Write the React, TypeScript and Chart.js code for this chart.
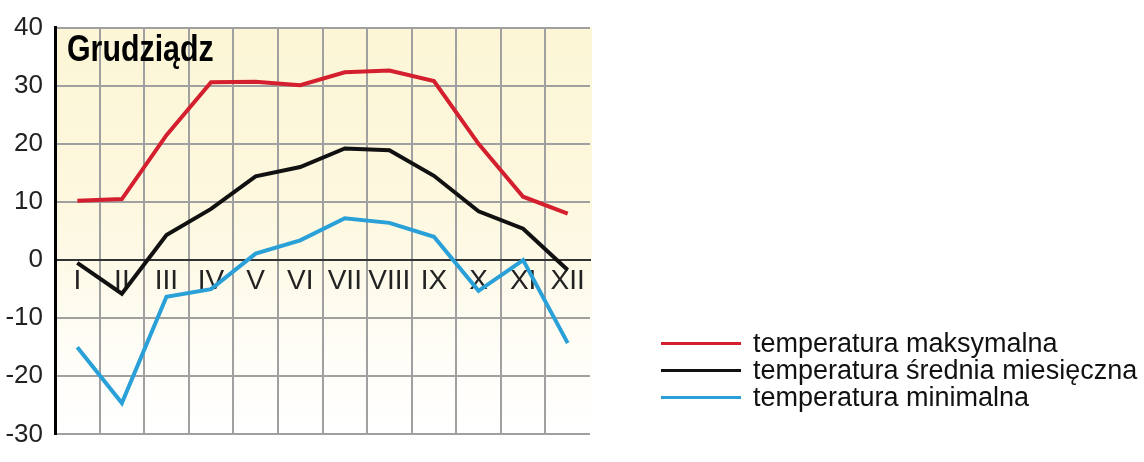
import { useEffect, useRef } from 'react';
import { Chart, registerables } from 'chart.js';

Chart.register(...registerables);

const months = ['I', 'II', 'III', 'IV', 'V', 'VI', 'VII', 'VIII', 'IX', 'X', 'XI', 'XII'];
const maxTemp = [10.2, 10.5, 21.5, 30.6, 30.7, 30.1, 32.3, 32.6, 30.8, 20.0, 10.9, 8.0];
const meanTemp = [-0.5, -5.8, 4.3, 8.8, 14.4, 16.0, 19.2, 18.9, 14.5, 8.4, 5.4, -1.7];
const minTemp = [-15.0, -24.6, -6.3, -5.0, 1.1, 3.4, 7.2, 6.4, 4.0, -5.3, 0.0, -14.3];
const seriesLabels = ['temperatura maksymalna', 'temperatura średnia miesięczna', 'temperatura minimalna'];
const seriesColors = ['#d41f2e', '#111111', '#2aa0d8'];
const yMin = -30;
const yMax = 40;
const yGridStep = 5;
const yLabelStep = 10;
const chartTitle = 'Grudziądz';

const SANS = '"Liberation Sans", Arial, sans-serif';
const GRID = '#a0a0a0';

const bgPlugin = {
  id: 'bgGradient',
  beforeDraw(chart: any) {
    const { ctx, chartArea: a } = chart;
    if (!a) return;
    const g = ctx.createLinearGradient(0, a.top, 0, a.bottom);
    g.addColorStop(0, '#fcf6d6');
    g.addColorStop(0.45, '#fdf8df');
    g.addColorStop(0.6, '#fdfae9');
    g.addColorStop(0.78, '#fffdf6');
    g.addColorStop(1, '#ffffff');
    ctx.save();
    ctx.fillStyle = g;
    ctx.fillRect(a.left, a.top, a.right - a.left + 2, a.bottom - a.top);
    ctx.restore();
  },
};

const titlePlugin = {
  id: 'innerTitle',
  afterDraw(chart: any) {
    const { ctx, chartArea: a } = chart;
    ctx.save();
    ctx.translate(a.left + 12, a.top + 33);
    ctx.scale(0.82, 1);
    ctx.font = `bold 37px ${SANS}`;
    ctx.fillStyle = '#000';
    ctx.textAlign = 'left';
    ctx.textBaseline = 'alphabetic';
    ctx.fillText(chartTitle, 0, 0);
    ctx.restore();
  },
};

export default function App() {
  const canvasRef = useRef<HTMLCanvasElement | null>(null);

  useEffect(() => {
    if (!canvasRef.current) return;
    const series = [maxTemp, meanTemp, minTemp];
    const chart = new Chart(canvasRef.current, {
      type: 'line',
      data: {
        labels: months,
        datasets: series.map((d, i) => ({
          label: seriesLabels[i],
          data: d,
          borderColor: seriesColors[i],
          backgroundColor: seriesColors[i],
          borderWidth: 4,
          pointRadius: 0,
          tension: 0,
          fill: false,
        })),
      },
      options: {
        animation: false,
        responsive: true,
        maintainAspectRatio: false,
        layout: { padding: { left: 0, top: 25, right: 554, bottom: 20 } },
        plugins: {
          legend: { display: false },
          tooltip: { enabled: false },
        },
        scales: {
          x: {
            type: 'category',
            position: { y: 0 } as any,
            offset: true,
            grid: {
              offset: true,
              color: (c: any) => (c.type === 'tick' ? GRID : 'rgba(0,0,0,0)'),
              lineWidth: 2,
              drawTicks: false,
            },
            border: { display: true, color: '#333', width: 2 },
            ticks: {
              color: '#222',
              font: { family: SANS, size: 28 },
              padding: 4,
              maxRotation: 0,
              autoSkip: false,
            },
          },
          y: {
            min: yMin,
            max: yMax,
            position: 'left',
            afterFit: (s: any) => {
              s.width = 55;
            },
            grid: { color: GRID, lineWidth: 2, drawTicks: false },
            border: { color: '#000', width: 3 },
            ticks: {
              stepSize: yGridStep,
              padding: 12,
              color: '#222',
              font: { family: SANS, size: 26 },
              callback: (v: any) => (Number(v) % yLabelStep === 0 ? String(v) : ''),
            },
          },
        },
      } as any,
      plugins: [bgPlugin, titlePlugin],
    });
    return () => chart.destroy();
  }, []);

  return (
    <div style={{ position: 'fixed', left: 0, top: 0, width: 1144, height: 462, background: '#fff' }}>
      <canvas ref={canvasRef} />
      <div
        style={{
          position: 'absolute',
          left: 661,
          top: 330,
          font: `27px ${SANS}`,
          color: '#111',
        }}
      >
        {seriesLabels.map((l, i) => (
          <div key={l} style={{ display: 'flex', alignItems: 'center', height: 27, lineHeight: '27px', whiteSpace: 'nowrap' }}>
            <span style={{ display: 'inline-block', width: 80, height: 3, background: seriesColors[i], marginRight: 12 }} />
            {l}
          </div>
        ))}
      </div>
    </div>
  );
}
